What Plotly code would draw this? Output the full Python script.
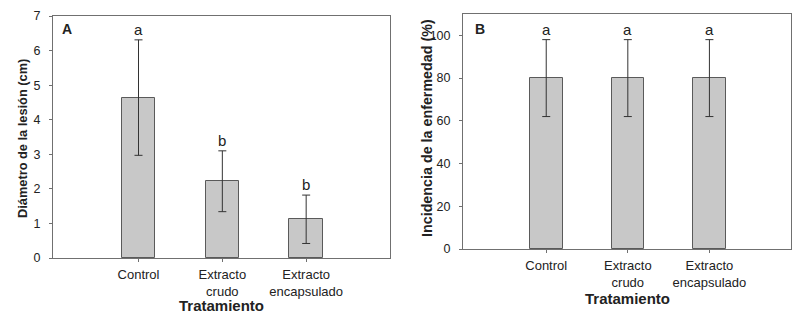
import plotly.graph_objects as go

categories = ["Control", "Extracto<br>crudo", "Extracto<br>encapsulado"]
diam_vals = [4.64, 2.22, 1.12]
diam_err = [1.67, 0.88, 0.70]
diam_letters = ["a", "b", "b"]
inc_vals = [80, 80, 80]
inc_err = [18, 18, 18]
inc_letters = ["a", "a", "a"]

W, H = 801, 318
FONT = "Liberation Sans, Arial, sans-serif"
TXT = "#222222"
AX = "#707070"
BAR = "#c8c8c8"
BAR_LINE = "#5a5a5a"

fig = go.Figure()
xs = [0, 1, 2]

def add_bars(vals, errs, xa, ya):
    fig.add_trace(go.Bar(
        x=xs, y=vals, width=0.4, xaxis=xa, yaxis=ya,
        marker=dict(color=BAR, line=dict(color=BAR_LINE, width=1)),
        error_y=dict(type="data", array=errs, visible=True, color="#333333",
                     thickness=1, width=4),
        showlegend=False, hoverinfo="skip"))

add_bars(diam_vals, diam_err, "x", "y")
add_bars(inc_vals, inc_err, "x2", "y2")

def xaxis_cfg(dom, anchor):
    return dict(domain=dom, range=[-1.02, 3.0], tickmode="array", tickvals=xs,
                ticktext=categories, ticks="outside", ticklen=3, tickcolor=AX,
                showline=True, linecolor=AX, linewidth=1, mirror=True,
                showgrid=False, zeroline=False, automargin=False, anchor=anchor,
                ticklabelstandoff=1,
                tickfont=dict(family=FONT, size=13, color=TXT))

def yaxis_cfg(dom, rng, dtick, anchor):
    return dict(domain=dom, range=rng, dtick=dtick, anchor=anchor,
                ticks="outside", ticklen=3, tickcolor=AX,
                showline=True, linecolor=AX, linewidth=1, mirror=True,
                showgrid=False, zeroline=False, automargin=False,
                ticklabelstandoff=6,
                tickfont=dict(family=FONT, size=12.5, color=TXT))

fig.update_layout(
    width=W, height=H, margin=dict(l=0, r=0, t=0, b=0),
    paper_bgcolor="white", plot_bgcolor="white", bargap=0,
    xaxis=xaxis_cfg([53 / W, 390 / W], "y"),
    yaxis=yaxis_cfg([1 - 258 / H, 1 - 16 / H], [0, 7], 1, "x"),
    xaxis2=xaxis_cfg([463 / W, 791 / W], "y2"),
    yaxis2=yaxis_cfg([1 - 249 / H, 1 - 14 / H], [0, 110], 20, "x2"),
)

# axis titles
def title(text, x, y, angle=0, size=15):
    fig.add_annotation(x=x / W, y=1 - y / H, xref="paper", yref="paper",
                       text="<b>" + text + "</b>", showarrow=False, textangle=angle,
                       xanchor="center", yanchor="middle",
                       font=dict(family=FONT, size=size, color=TXT))

title("Tratamiento", 221, 305)
title("Tratamiento", 627, 298)
title("Diámetro de la lesión (cm)", 22, 139, -90, 12.8)
title("Incidencia de la enfermedad (%)", 427, 128, -90, 14.3)

for i in range(3):
    fig.add_annotation(x=xs[i], y=diam_vals[i] + diam_err[i], xref="x", yref="y",
                       text=diam_letters[i], showarrow=False, yanchor="bottom", yshift=0,
                       font=dict(family=FONT, size=15, color=TXT))
    fig.add_annotation(x=xs[i], y=inc_vals[i] + inc_err[i], xref="x2", yref="y2",
                       text=inc_letters[i], showarrow=False, yanchor="bottom", yshift=0,
                       font=dict(family=FONT, size=15, color=TXT))

fig.add_annotation(x=-0.94, y=6.62, xref="x", yref="y", text="<b>A</b>", showarrow=False,
                   xanchor="left", yanchor="middle", font=dict(family=FONT, size=14, color=TXT))
fig.add_annotation(x=-0.9, y=103.1, xref="x2", yref="y2", text="<b>B</b>", showarrow=False,
                   xanchor="left", yanchor="middle", font=dict(family=FONT, size=14, color=TXT))

fig.write_html("out.html", config={"displayModeBar": False},
               post_script="document.body.style.margin='0';")
